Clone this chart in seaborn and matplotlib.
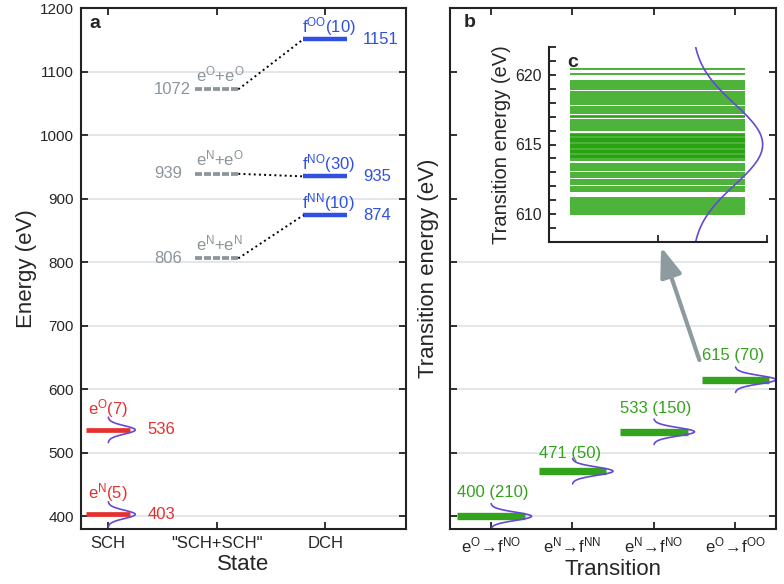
import numpy as np
import matplotlib
matplotlib.use('Agg')
import matplotlib.pyplot as plt
from matplotlib.patches import Rectangle
from matplotlib.ticker import MultipleLocator
import seaborn as sns

# ---- data ----
# panel a: energies of the states (eV)
state_labels = ['SCH', '"SCH+SCH"', 'DCH']
sch_names = ['e$^{\\mathrm{N}}$(5)', 'e$^{\\mathrm{O}}$(7)']
sch_energy = [403, 536]
sum_names = ['e$^{\\mathrm{N}}$+e$^{\\mathrm{N}}$', 'e$^{\\mathrm{N}}$+e$^{\\mathrm{O}}$',
             'e$^{\\mathrm{O}}$+e$^{\\mathrm{O}}$']
sum_energy = [806, 939, 1072]
dch_names = ['f$^{\\mathrm{NN}}$(10)', 'f$^{\\mathrm{NO}}$(30)', 'f$^{\\mathrm{OO}}$(10)']
dch_energy = [874, 935, 1151]

# panel b: transitions
trans_labels = ['e$^{\\mathrm{O}}\\!\\rightarrow\\!$f$^{\\mathrm{NO}}$',
                'e$^{\\mathrm{N}}\\!\\rightarrow\\!$f$^{\\mathrm{NN}}$',
                'e$^{\\mathrm{N}}\\!\\rightarrow\\!$f$^{\\mathrm{NO}}$',
                'e$^{\\mathrm{O}}\\!\\rightarrow\\!$f$^{\\mathrm{OO}}$']
trans_energy = [400, 471, 533, 615]
trans_count = [210, 50, 150, 70]

# inset c: the 70 single transition energies of e^O -> f^OO (eV)
c_energy = [620.41, 620.07,
            619.59, 619.45, 619.28, 619.12, 619.00, 618.76, 618.64, 618.50, 618.35, 618.20,
            618.04, 617.92, 617.68, 617.54, 617.40, 617.25, 617.08, 616.97, 616.77, 616.63,
            616.49, 616.34, 616.20, 616.06,
            615.77, 615.68, 615.60, 615.50, 615.42, 615.33, 615.25, 615.16, 615.07, 614.98,
            614.90, 614.80, 614.72, 614.63, 614.55, 614.46, 614.37, 614.28, 614.20, 614.10,
            614.00, 613.90,
            613.62, 613.48, 613.33, 613.14, 612.97, 612.80, 612.66, 612.47, 612.30, 612.14,
            611.95, 611.78, 611.64,
            611.18, 611.04, 610.90, 610.75, 610.60, 610.47, 610.32, 610.18, 610.04]
c_center = 615
c_sigma = 2.9
peak_sigma = 6.5

# ---- style ----
sns.set_theme(style='ticks')
plt.rcParams['font.family'] = ['Liberation Sans', 'DejaVu Sans']
plt.rcParams['mathtext.fontset'] = 'custom'
plt.rcParams['mathtext.rm'] = 'Liberation Sans'
plt.rcParams['mathtext.it'] = 'Liberation Sans:italic'
plt.rcParams['mathtext.bf'] = 'Liberation Sans:bold'
plt.rcParams['mathtext.fallback'] = 'stixsans'

red = '#e5302e'
blue = '#2f50e0'
grey = '#8b959a'
green = '#33a21c'
violet = '#6747d6'
gridc = '#dde3e7'


def style_axes(ax):
    for s in ax.spines.values():
        s.set_linewidth(1.5)
        s.set_color('#222222')
    ax.tick_params(direction='in', length=5, width=1.3, color='#222222',
                   top=True, right=True, pad=5)


def gauss(ax, x0, e0, amp, sig, half):
    yy = np.linspace(e0 - half, e0 + half, 120)
    xx = x0 + amp * np.exp(-(yy - e0) ** 2 / (2 * sig ** 2))
    sns.lineplot(x=xx, y=yy, sort=False, estimator=None, ax=ax, color=violet, lw=1.2)


fig = plt.figure(figsize=(7.84, 5.84), dpi=100)
ax_a = fig.add_axes([81 / 784, 1 - 529 / 584, 325 / 784, 521 / 584])
ax_b = fig.add_axes([450 / 784, 1 - 529 / 584, 326 / 784, 521 / 584])
ax_c = fig.add_axes([549 / 784, 1 - 242 / 584, 218 / 784, 195 / 584])

# ---- panel a ----
ax_a.grid(axis='y', color=gridc, lw=1.2)
ax_a.grid(axis='x', visible=False)
ax_a.hlines(sch_energy, 0.8, 1.2, color=red, lw=3.4)
for e, name in zip(sch_energy, sch_names):
    gauss(ax_a, 1, e, 0.25, peak_sigma, 20)
    ax_a.text(0.815, e + 25, name, color=red, fontsize=12, va='baseline')
    ax_a.text(1.36, e, str(e), color=red, fontsize=12, va='center')

ax_a.hlines(sum_energy, 1.8, 2.2, color=grey, lw=2.7, linestyles=[(0, (1.87, 0.53))])
for e, name in zip(sum_energy, sum_names):
    ax_a.text(1.81, e + 13, name, color=grey, fontsize=12, va='baseline')
    ax_a.text(1.424, e, str(e), color=grey, fontsize=12, va='center')

ax_a.hlines(dch_energy, 2.8, 3.2, color=blue, lw=3.2)
for e, name in zip(dch_energy, dch_names):
    ax_a.text(2.79, e + 11, name, color=blue, fontsize=12, va='baseline')
    ax_a.text(3.35, e, str(e), color=blue, fontsize=12, va='center')

for e1, e2 in zip(sum_energy, dch_energy):
    ax_a.plot([2.2, 2.8], [e1, e2], color='black', ls=':', lw=1.4)

ax_a.set_xlim(0.75, 3.745)
ax_a.set_ylim(380, 1200)
ax_a.set_xticks([1, 2, 3], state_labels, fontsize=12)
ax_a.set_yticks(range(400, 1201, 100))
ax_a.tick_params(axis='y', labelsize=11)
ax_a.set_xlabel('State', fontsize=16, labelpad=2)
ax_a.set_ylabel('Energy (eV)', fontsize=16, labelpad=2)
style_axes(ax_a)
ax_a.text(0.026, 0.962, 'a', transform=ax_a.transAxes, fontsize=14,
          fontweight='bold', va='baseline')

# ---- panel b ----
ax_b.grid(axis='y', color=gridc, lw=1.2)
ax_b.grid(axis='x', visible=False)
ax_b.add_patch(Rectangle((0.022, 0.535), 0.956, 0.447, transform=ax_b.transAxes,
                         facecolor='white', edgecolor='none', zorder=1.6))
pos = np.arange(1, len(trans_energy) + 1)
label_dy = [30, 20, 30, 31]
ax_b.hlines(trans_energy, pos - 0.41, pos + 0.42, color=green, lw=5.3)
for p, e, n, dy in zip(pos, trans_energy, trans_count, label_dy):
    gauss(ax_b, p, e, 0.5, peak_sigma, 20)
    ax_b.text(p - 0.41, e + dy, f'{e} ({n})', color=green, fontsize=12, va='baseline')

ax_b.annotate('', xy=(3.09, 824), xytext=(3.56, 646),
              arrowprops=dict(arrowstyle='-|>,head_length=0.6,head_width=0.22',
                              color='#8d9aa0', lw=3, mutation_scale=30,
                              shrinkA=0, shrinkB=0))
ax_b.set_xlim(0.5, 4.5)
ax_b.set_ylim(380, 1200)
ax_b.set_xticks(pos, trans_labels, fontsize=12)
ax_b.set_yticks(range(400, 1201, 100))
ax_b.tick_params(axis='y', labelleft=False)
ax_b.set_xlabel('Transition', fontsize=16, labelpad=2)
ax_b.set_ylabel('Transition energy (eV)', fontsize=16, labelpad=8)
style_axes(ax_b)
ax_b.text(0.041, 0.964, 'b', transform=ax_b.transAxes, fontsize=14,
          fontweight='bold', va='baseline')

# ---- inset c ----
ax_c.set_facecolor('white')
ax_c.hlines(c_energy, 0.096, 0.9, color='#22a00a', lw=1.15)
gauss(ax_c, 0.655, c_center, 0.325, c_sigma, 7)
ax_c.set_xlim(0, 1)
ax_c.set_ylim(608, 622)
ax_c.set_xticks([0, 0.5, 1], ['', '', ''])
ax_c.set_yticks([610, 615, 620])
ax_c.yaxis.set_minor_locator(MultipleLocator(1))
for s in ['top', 'right']:
    ax_c.spines[s].set_visible(False)
for s in ['left', 'bottom']:
    ax_c.spines[s].set_linewidth(1.5)
    ax_c.spines[s].set_color('#222222')
ax_c.tick_params(which='both', direction='in', length=5, width=1.3, color='#222222',
                 labelsize=11.5, pad=5)
ax_c.set_ylabel('Transition energy (eV)', fontsize=14.5, labelpad=3)
ax_c.text(0.084, 0.896, 'c', transform=ax_c.transAxes, fontsize=14,
          fontweight='bold', va='baseline')

fig.savefig('out.png', dpi=100)
